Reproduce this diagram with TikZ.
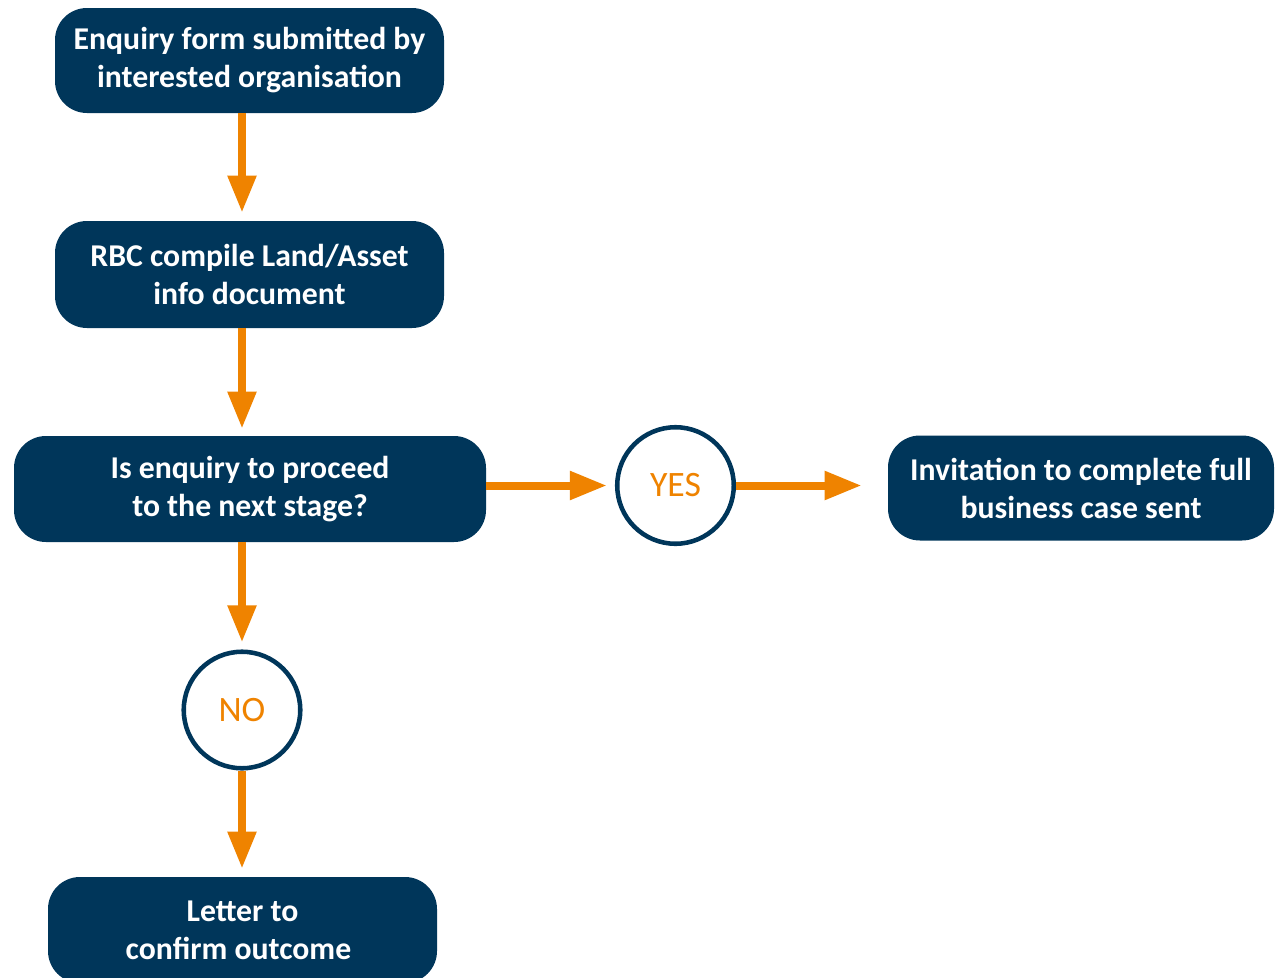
\documentclass[tikz,border=0pt]{standalone}
\usepackage{fontspec}
\setmainfont{Carlito}
\usetikzlibrary{arrows.meta}
\definecolor{navy}{RGB}{0,54,90}
\definecolor{orng}{RGB}{239,131,0}
\tikzset{
  box/.style={fill=navy, rounded corners=24pt, text=white, align=center,
    font=\fontsize{23.8pt}{28.5pt}\selectfont\bfseries, inner sep=0pt},
  ring/.style={circle, draw=navy, line width=3.4pt, minimum size=87.4pt, inner sep=0pt,
    text=orng, font=\fontsize{26.8pt}{30pt}\selectfont},
  flow/.style={draw=orng, line width=6pt, -{Triangle[length=27.75pt,width=20.25pt]}}
}
\begin{document}
\begin{tikzpicture}[x=0.75pt,y=-0.75pt]
\clip (0,0) rectangle (1275,978);
\fill[white] (0,0) rectangle (1275,978);
\node[box, minimum width=291.75pt, minimum height=78.75pt] (b1) at (249.5,60.5) {Enquiry form submitted by\\interested organisation};
\node[box, minimum width=291.75pt, minimum height=80.25pt] (b2) at (249.5,274.5) {RBC compile Land/Asset\\info document};
\node[box, minimum width=354pt, minimum height=79.5pt] (b3) at (250,489) {Is enquiry to proceed\\to the next stage?};
\node[box, minimum width=289.5pt, minimum height=78.75pt] (b4) at (1081,488) {Invitation to complete full\\business case sent};
\node[box, minimum width=291.75pt, minimum height=79.5pt] (b5) at (242.5,930) {Letter to\\\hspace*{-6pt}confirm outcome};
\node[ring] (yes) at (675.5,485.5) {YES};
\node[ring] (no) at (242,710) {NO};
\draw[flow, shorten >=6pt] (b1.south -| no) -- (b2.north -| no);
\draw[flow, shorten >=5.25pt] (b2.south -| no) -- (b3.north -| no);
\draw[flow, shorten >=5.25pt] (b3.south -| no) -- (no.north);
\draw[flow, shorten >=6pt] (no.south) -- (b5.north -| no);
\draw[flow, shorten >=6pt] (b3.east |- yes) -- (yes.west);
\draw[flow, shorten >=19.5pt] (yes.east) -- (b4.west |- yes);
\end{tikzpicture}
\end{document}
